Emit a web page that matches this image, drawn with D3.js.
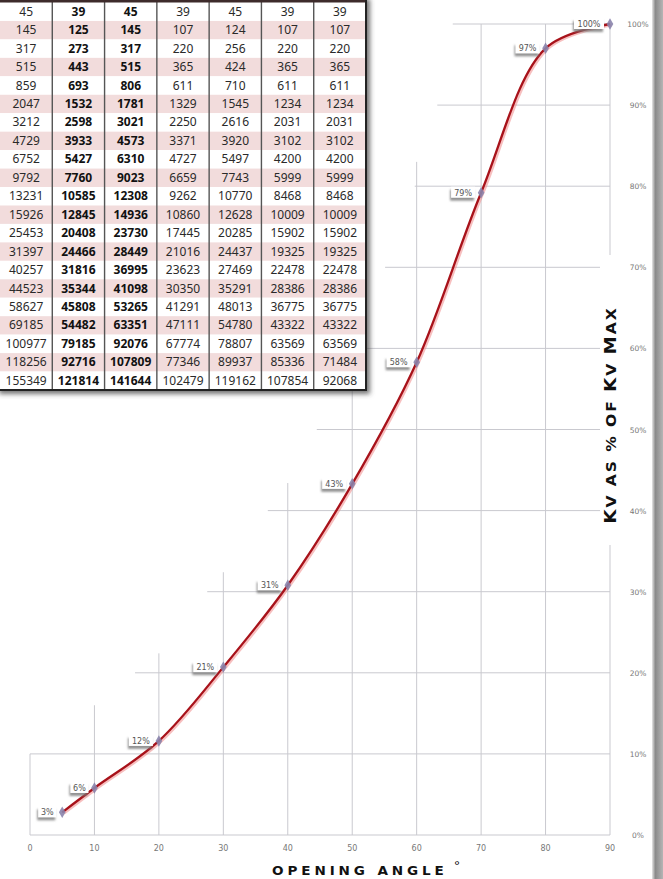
<!DOCTYPE html>
<html lang="en">
<head>
<meta charset="utf-8">
<title>Kv vs opening angle</title>
<script src="https://cdn.jsdelivr.net/npm/d3@7/dist/d3.min.js"></script>
<style>
  html, body { margin: 0; padding: 0; background: white; }
  svg { display: block; }
</style>
</head>
<body>
<svg id="chart" width="663" height="879"></svg>
<script>
// ---------------------------------------------
// data
// ---------------------------------------------
var angles   = [5, 10, 20, 30, 40, 50, 60, 70, 80, 90];
var kvPct    = [2.8, 5.8, 11.6, 20.7, 30.8, 43.3, 58.3, 79.2, 97, 100];
var kvLabels = ["3%", "6%", "12%", "21%", "31%", "43%", "58%", "79%", "97%", "100%"];

var xTicks = [0, 10, 20, 30, 40, 50, 60, 70, 80, 90];
var yTicks = [0, 10, 20, 30, 40, 50, 60, 70, 80, 90, 100];
// how far each grid line reaches (vertical: top in %, horizontal: left start in degrees)
var vGridTop   = [10, 16, 22.4, 32.4, 43.4, 56.7, 83, 100, 100, 100];
var hGridStart = [0, 0, 16.3, 27.5, 36.9, 44.5, 46, 55.1, 59.7, 63.2, 65.6];

// table pasted over the top left corner
var col1 = [45,145,317,515,859,2047,3212,4729,6752,9792,13231,15926,25453,31397,40257,44523,58627,69185,100977,118256,155349];
var col2 = [39,125,273,443,693,1532,2598,3933,5427,7760,10585,12845,20408,24466,31816,35344,45808,54482,79185,92716,121814];
var col3 = [45,145,317,515,806,1781,3021,4573,6310,9023,12308,14936,23730,28449,36995,41098,53265,63351,92076,107809,141644];
var col4 = [39,107,220,365,611,1329,2250,3371,4727,6659,9262,10860,17445,21016,23623,30350,41291,47111,67774,77346,102479];
var col5 = [45,124,256,424,710,1545,2616,3920,5497,7743,10770,12628,20285,24437,27469,35291,48013,54780,78807,89937,119162];
var col6 = [39,107,220,365,611,1234,2031,3102,4200,5999,8468,10009,15902,19325,22478,28386,36775,43322,63569,85336,107854];
var col7 = [39,107,220,365,611,1234,2031,3102,4200,5999,8468,10009,15902,19325,22478,28386,36775,43322,63569,71484,92068];
var tableCols = [col1, col2, col3, col4, col5, col6, col7];
var boldCols  = [false, true, true, false, false, false, false];

var svg = d3.select("#chart");
var x = d3.scaleLinear().domain([0, 90]).range([30, 610]);
var y = d3.scaleLinear().domain([0, 100]).range([835, 24]);

var defs = svg.append("defs");
var sh = defs.append("filter").attr("id", "lblShadow")
  .attr("x", "-20%").attr("y", "-20%").attr("width", "140%").attr("height", "180%");
sh.append("feDropShadow").attr("dx", -1).attr("dy", 3).attr("stdDeviation", 0.8)
  .attr("flood-color", "#777").attr("flood-opacity", 0.8);
var tsh = defs.append("filter").attr("id", "tblShadow")
  .attr("x", "-5%").attr("y", "-5%").attr("width", "115%").attr("height", "115%");
tsh.append("feDropShadow").attr("dx", 4).attr("dy", 4).attr("stdDeviation", 2.5)
  .attr("flood-color", "#444").attr("flood-opacity", 0.75);
var edge = defs.append("linearGradient").attr("id", "edgeGrad");
edge.append("stop").attr("offset", "0%").attr("stop-color", "#e6e6e6");
edge.append("stop").attr("offset", "30%").attr("stop-color", "#8a8a8a");
edge.append("stop").attr("offset", "100%").attr("stop-color", "#b5b5b5");

//---------------------------------------------
// grid (staircase, as in the original)
//---------------------------------------------
var grid = svg.append("g").attr("stroke", "#c9c9cf").attr("stroke-width", 1);
grid.selectAll(".vg").data(xTicks).enter().append("line")
  .attr("x1", function(d) { return x(d); }).attr("x2", function(d) { return x(d); })
  .attr("y1", y(0)).attr("y2", function(d, i) { return y(vGridTop[i]); });
grid.selectAll(".hg").data(yTicks).enter().append("line")
  .attr("y1", function(d) { return y(d); }).attr("y2", function(d) { return y(d); })
  .attr("x1", function(d, i) { return x(hGridStart[i]); }).attr("x2", x(90));

// tick labels
svg.append("g").selectAll("text").data(xTicks).enter().append("text")
  .attr("x", function(d) { return x(d); }).attr("y", 851)
  .attr("text-anchor", "middle")
  .style("font", "8px 'DejaVu Sans', sans-serif").style("fill", "#777")
  .text(function(d) { return d; });
svg.append("g").selectAll("text").data(yTicks).enter().append("text")
  .attr("x", 638).attr("y", function(d) { return y(d) + 3; })
  .attr("text-anchor", "middle")
  .style("font", "7.5px 'DejaVu Sans', sans-serif").style("fill", "#777")
  .text(function(d) { return d + "%"; });

//---------------------------------------------
// curve
//---------------------------------------------
var pts = angles.map(function(a, i) { return [a, kvPct[i]]; });
var line = d3.line()
  .x(function(d) { return x(d[0]); })
  .y(function(d) { return y(d[1]); })
  .curve(d3.curveCatmullRom.alpha(0.5));

svg.append("path").datum(pts).attr("d", line)
  .attr("transform", "translate(1.5,1)")
  .style("fill", "none").style("stroke", "#f08a8a").style("stroke-width", 3).style("opacity", 0.55);
svg.append("path").datum(pts).attr("d", line)
  .style("fill", "none").style("stroke", "#a8121a").style("stroke-width", 2.3);

svg.append("g").selectAll("path").data(pts).enter().append("path")
  .attr("d", d3.symbol().type(d3.symbolDiamond).size(38))
  .attr("transform", function(d) { return "translate(" + x(d[0]) + "," + y(d[1]) + ")"; })
  .style("fill", "#8a84ac").style("opacity", 0.9);

// data labels
var lbl = svg.append("g").selectAll("g").data(pts).enter().append("g")
  .attr("transform", function(d) { return "translate(" + (x(d[0]) - 6) + "," + y(d[1]) + ")"; });
lbl.each(function(d, i) {
  var g = d3.select(this);
  var w = kvLabels[i].length * 6 + 6;
  g.append("rect").attr("x", -w).attr("y", -6).attr("width", w).attr("height", 11)
    .style("fill", "white").attr("filter", "url(#lblShadow)");
  g.append("text").attr("x", -w / 2).attr("y", 2.8).attr("text-anchor", "middle")
    .style("font", "8px 'DejaVu Sans', sans-serif").style("fill", "#555")
    .text(kvLabels[i]);
});

//---------------------------------------------
// axis titles (stretched a little to look like the wide original font)
//---------------------------------------------
svg.append("rect").attr("x", 600).attr("y", 255).attr("width", 21).attr("height", 290).style("fill", "white");
var yt = svg.append("text")
  .attr("transform", "translate(616,415) rotate(-90) scale(1.15,1)")
  .attr("text-anchor", "middle")
  .style("font-family", "'DejaVu Sans', sans-serif").style("font-weight", "bold")
  .style("letter-spacing", "1.7px").style("fill", "#111");
[["K", 16], ["V AS % OF ", 13.5], ["K", 16], ["V ", 13.5], ["M", 16], ["AX", 13.5]].forEach(function(p) {
  yt.append("tspan").style("font-size", p[1] + "px").text(p[0]);
});

var xt = svg.append("text").attr("transform", "translate(272,875) scale(1.18,1)")
  .style("font-family", "'DejaVu Sans', sans-serif").style("fill", "#111");
xt.append("tspan").style("font-size", "11.5px").style("font-weight", "bold")
  .style("letter-spacing", "3.3px").text("OPENING ANGLE");
xt.append("tspan").attr("dx", 5).attr("dy", -6).style("font-size", "11px").text("°");

//---------------------------------------------
// table
//---------------------------------------------
var cx = d3.scaleBand().domain(d3.range(tableCols.length)).range([0, 366]);
var ry = d3.scaleBand().domain(d3.range(col1.length)).range([2.5, 390]);
var tbl = svg.append("g");
tbl.append("rect").attr("x", -5).attr("y", -5).attr("width", 371).attr("height", 395)
  .style("fill", "white").attr("filter", "url(#tblShadow)");
tbl.selectAll(".row").data(col1).enter().append("rect")
  .attr("x", 0).attr("width", 366)
  .attr("y", function(d, i) { return ry(i); }).attr("height", ry.bandwidth())
  .style("fill", function(d, i) { return i % 2 ? "#f2dcdc" : "white"; });
tableCols.forEach(function(col, c) {
  tbl.append("g").selectAll("text").data(col).enter().append("text")
    .attr("x", cx(c) + cx.bandwidth() / 2)
    .attr("y", function(d, i) { return ry(i) + ry.bandwidth() / 2 + 4; })
    .attr("text-anchor", "middle")
    .style("font-family", "'Noto Sans', sans-serif").style("font-size", "12px")
    .style("font-weight", boldCols[c] ? "bold" : "normal")
    .style("fill", boldCols[c] ? "#111" : "#2a2a2a")
    .text(function(d) { return d; });
});
tbl.selectAll(".sep").data(d3.range(1, tableCols.length)).enter().append("line")
  .attr("x1", function(d) { return cx(d); }).attr("x2", function(d) { return cx(d); })
  .attr("y1", 0).attr("y2", 390)
  .style("stroke", "#555").style("stroke-width", 1.4);
tbl.append("rect").attr("x", 0).attr("y", 0).attr("width", 366).attr("height", 2.5).style("fill", "#3d2b2b");
tbl.append("line").attr("x1", 366).attr("x2", 366).attr("y1", 0).attr("y2", 391)
  .style("stroke", "#222").style("stroke-width", 2);
tbl.append("line").attr("x1", 0).attr("x2", 367).attr("y1", 390).attr("y2", 390)
  .style("stroke", "#222").style("stroke-width", 2);

// page edge on the right
svg.append("rect").attr("x", 652).attr("y", 0).attr("width", 11).attr("height", 879)
  .style("fill", "url(#edgeGrad)");
</script>
</body>
</html>
